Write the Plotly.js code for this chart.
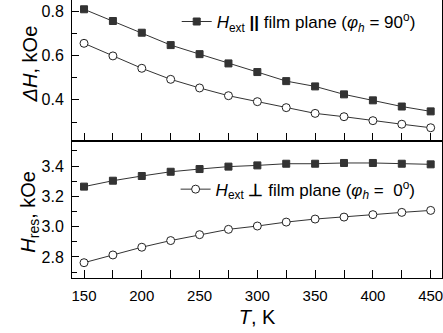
<!DOCTYPE html>
<html><head><meta charset="utf-8">
<script src="https://cdn.plot.ly/plotly-3.0.1.min.js"></script>
<style>html,body{margin:0;padding:0;background:#fff}#c{width:443px;height:333px}</style>
</head><body><div id="c"></div>
<script>
const T = [150,175,200,225,250,275,300,325,350,375,400,425,450];
const dH_par = [0.810,0.757,0.704,0.648,0.607,0.565,0.526,0.485,0.461,0.425,0.398,0.370,0.348];
const dH_perp = [0.656,0.599,0.543,0.493,0.454,0.419,0.392,0.365,0.339,0.324,0.306,0.290,0.274];
const Hres_par = [3.264,3.303,3.334,3.362,3.380,3.396,3.404,3.415,3.415,3.420,3.420,3.415,3.411];
const Hres_perp = [2.762,2.813,2.864,2.908,2.947,2.982,3.004,3.030,3.050,3.063,3.079,3.094,3.107];

const fam = 'Liberation Sans, Arial, sans-serif';
const lineC = '#333';
const sq = {symbol:'square', size:7, color:'#333', line:{color:'#333', width:1}};
const ci = {symbol:'circle', size:8, color:'#fff', line:{color:'#222', width:1}};

const data = [
  {x:T, y:dH_par, xaxis:'x2', yaxis:'y2', mode:'lines+markers', line:{color:lineC,width:1}, marker:sq,
   name:'<i>H</i><sub>ext</sub> <b>||</b> film plane (<i>φ<sub>h</sub></i> = 90<sup>o</sup>)', legend:'legend'},
  {x:T, y:dH_perp, xaxis:'x2', yaxis:'y2', mode:'lines+markers', line:{color:lineC,width:1}, marker:ci, showlegend:false},
  {x:T, y:Hres_par, xaxis:'x', yaxis:'y', mode:'lines+markers', line:{color:lineC,width:1}, marker:sq, showlegend:false},
  {x:T, y:Hres_perp, xaxis:'x', yaxis:'y', mode:'lines+markers', line:{color:lineC,width:1}, marker:ci,
   name:'<i>H</i><sub>ext</sub> <b>⊥</b> film plane (<i>φ<sub>h</sub></i> =\u00a0\u00a00<sup>o</sup>)', legend:'legend2'}
];

const split = 0.4928;
const axBase = {showline:true, linecolor:'#000', linewidth:1, mirror:true, showgrid:false, zeroline:false,
  ticks:'inside', tickcolor:'#000', tickfont:{family:fam, size:15, color:'#000'}, ticklabeloverflow:'allow'};

const layout = {
  width:443, height:333,
  margin:{l:72, r:1, t:0, b:55},
  paper_bgcolor:'#fff', plot_bgcolor:'#fff',
  font:{family:fam, color:'#000'},
  xaxis: Object.assign({}, axBase, {range:[139.6,459.8], dtick:50, ticklen:8, anchor:'y', domain:[0,1],
    ticklabelstandoff:4,
    minor:{dtick:25, ticks:'inside', ticklen:8, tickcolor:'#000'},
    title:{text:'<i>T</i>, K', font:{family:fam, size:20, color:'#000'}, standoff:6}}),
  yaxis: Object.assign({}, axBase, {domain:[0, split], range:[2.661,3.565], dtick:0.2, tickformat:'.1f', ticklen:7, anchor:'x',
    ticklabelstandoff:4, tickfont:{family:fam, size:16, color:'#000'},
    minor:{dtick:0.1, ticks:'inside', ticklen:5, tickcolor:'#000'}}),
  xaxis2: Object.assign({}, axBase, {range:[139.6,459.8], dtick:50, ticklen:8, anchor:'y2', showticklabels:false, matches:'x',
    minor:{dtick:25, ticks:'inside', ticklen:8, tickcolor:'#000'}}),
  yaxis2: Object.assign({}, axBase, {domain:[split, 1], range:[0.214,0.852], dtick:0.2, ticklen:7, anchor:'x2',
    ticklabelstandoff:4, tickfont:{family:fam, size:16, color:'#000'},
    minor:{dtick:0.1, ticks:'inside', ticklen:5, tickcolor:'#000'}}),
  legend:{x:0.283, y:0.921, xanchor:'left', yanchor:'middle', bgcolor:'rgba(0,0,0,0)',
    font:{family:fam, size:17, color:'#000'}},
  legend2:{x:0.28, y:0.318, xanchor:'left', yanchor:'middle', bgcolor:'rgba(0,0,0,0)',
    font:{family:fam, size:17, color:'#000'}},
  annotations:[
    {xref:'paper', yref:'paper', x:-0.115, y:0.77, text:'<i>ΔH</i>, kOe', textangle:-90, showarrow:false,
     font:{family:fam, size:20, color:'#000'}, xanchor:'center', yanchor:'middle'},
    {xref:'paper', yref:'paper', x:-0.115, y:0.24, text:'<i>H</i><sub>res</sub>, kOe', textangle:-90, showarrow:false,
     font:{family:fam, size:20, color:'#000'}, xanchor:'center', yanchor:'middle'}
  ],
  showlegend:true
};
Plotly.newPlot('c', data, layout, {displayModeBar:false, staticPlot:true});
</script></body></html>
